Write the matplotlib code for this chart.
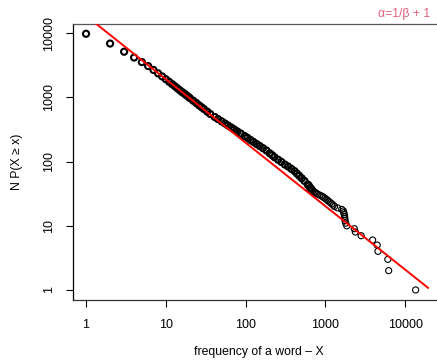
import numpy as np
import matplotlib
matplotlib.use("Agg")
import matplotlib.pyplot as plt

plt.rcParams['font.family'] = ['Liberation Sans', 'DejaVu Sans']

# word frequency x and number of words with frequency >= x
freq = [1, 2, 3, 4, 5, 6, 7, 8, 9, 10, 11, 12, 13, 14, 15, 16, 17, 18, 19, 20,
        22, 24, 26, 28, 30, 33, 36, 41, 45, 50, 55, 60, 66, 72, 79, 87, 97,
        105, 115, 125, 137, 150, 165, 182, 200, 215, 230, 255, 280, 310, 340,
        375, 410, 440, 470, 505, 545, 600, 620, 645, 670,
        690, 720, 745, 770, 800, 850, 900, 940, 980, 1020, 1060, 1100, 1150,
        1200, 1250, 1300, 1420, 1600, 1680, 1700, 1720, 1740, 1750, 1760, 1790,
        1850, 2300, 2370, 2800, 3900, 4450, 4550, 6050, 6200, 13500]
n_ge = [9800, 6900, 5150, 4180, 3550, 3080, 2680, 2370, 2120, 1920, 1750, 1610,
        1490, 1380, 1290, 1210, 1150, 1085, 1030, 975,
        890, 820, 755, 705, 660, 600, 552, 495, 460, 424, 393, 366, 340, 317,
        294, 273, 250,
        235, 217, 203, 188, 175, 162, 149, 135, 126, 117, 107, 99, 90, 84,
        77, 71, 65, 60, 55, 50, 44, 42, 39, 37,
        35, 34, 33, 32, 31, 30, 29, 28, 27, 26, 25, 24, 23,
        22, 21, 20, 19, 18, 17, 16, 15, 14, 13, 12, 11,
        10, 9, 8, 7, 6, 5, 4, 3, 2, 1]

# fitted power law for the red line
fit_const = 18700
fit_slope = -0.989
fit_range = [1.0, 19300]
fit_label = "\u03b1=1/\u03b2 + 1"

x = np.array(freq, dtype=float)
y = np.array(n_ge, dtype=float)
ties = -np.diff(np.append(y, 0))
lw = np.where(ties > 1, 1.5, 0.8)

fig = plt.figure(figsize=(4.37, 3.62), dpi=100)
ax = fig.add_axes([0.1664, 0.1699, 1 - 0.1664, 0.9345 - 0.1699])
ax.set_xscale('log')
ax.set_yscale('log')

ax.scatter(x, y, s=4.4 ** 2, facecolors='none', edgecolors='black',
           linewidths=lw, zorder=2)

fx = np.array(fit_range)
ax.plot(fx, fit_const * fx ** fit_slope, color='red', lw=1.4, zorder=3)

ax.set_xlim(10 ** -0.167, 10 ** 4.398)
ax.set_ylim(10 ** -0.164, 10 ** 4.148)

ticks = [1, 10, 100, 1000, 10000]
ax.set_xticks(ticks)
ax.set_xticklabels([str(t) for t in ticks])
ax.set_yticks(ticks)
ax.set_yticklabels([str(t) for t in ticks], rotation=90, va='center')
ax.minorticks_off()
ax.tick_params(direction='out', length=5, width=0.8, labelsize=9, pad=8)

ax.spines['right'].set_visible(False)
for s in ['left', 'bottom', 'top']:
    ax.spines[s].set_linewidth(0.9)
ax.spines['top'].set_color('#555555')
ax.spines['bottom'].set_color('#333333')

fig.text(259 / 437, 1 - 351.7 / 362, "frequency of a word \u2013 X", ha='center',
         va='center', fontsize=8.8)
fig.text(17 / 437, 1 - 162 / 362, "N P(X \u2265 x)", rotation=90, ha='center',
         va='center', fontsize=8.8)
fig.text(430 / 437, 1 - 14 / 362, fit_label, ha='right', va='center',
         fontsize=8.8, color='#e2607a')

fig.savefig("out.png", dpi=100)
